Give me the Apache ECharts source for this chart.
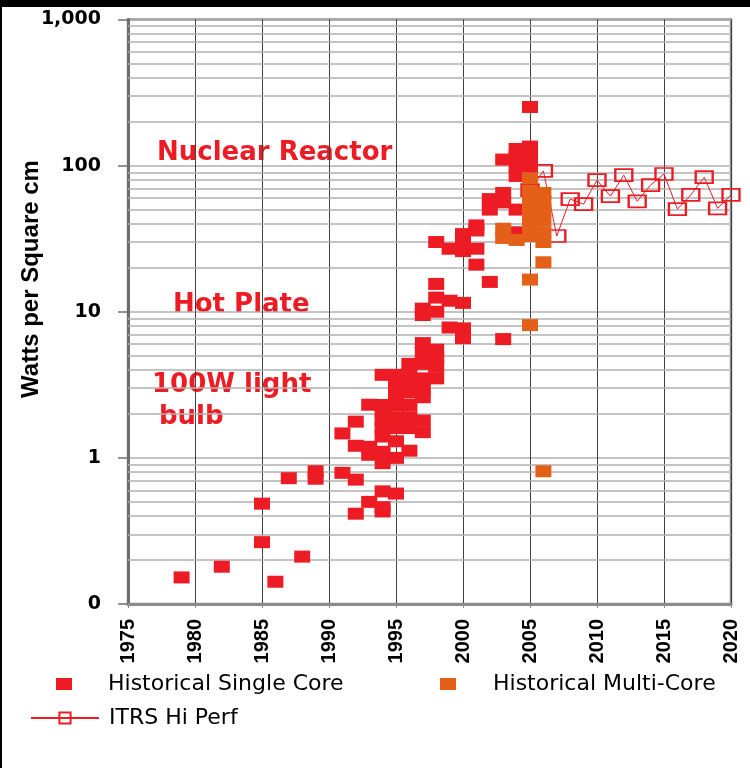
<!DOCTYPE html>
<html><head><meta charset="utf-8">
<script src="https://cdn.jsdelivr.net/npm/echarts@6/dist/echarts.min.js"></script>
<style>html,body{margin:0;padding:0;background:#fff}#c{width:750px;height:768px}</style>
</head><body><div id="c"></div>
<script>
// ---- data ----
const singleCoreYears = [
  1979, 1982, 1985, 1985, 1986, 1987, 1988, 1989, 1989,
  1991, 1991, 1992, 1992, 1992, 1992,
  1993, 1993, 1993, 1993,
  1994, 1994, 1994, 1994, 1994, 1994, 1994, 1994, 1994, 1994, 1994,
  1995, 1995, 1995, 1995, 1995, 1995, 1995, 1995, 1995,
  1996, 1996, 1996, 1996, 1996, 1996, 1996, 1996,
  1997, 1997, 1997, 1997, 1997, 1997, 1997, 1997, 1997, 1997,
  1998, 1998, 1998, 1998, 1998, 1998, 1998, 1998,
  1999, 1999, 1999,
  2000, 2000, 2000, 2000, 2000, 2000,
  2001, 2001, 2001, 2001,
  2002, 2002, 2002,
  2003, 2003, 2003, 2003,
  2004, 2004, 2004, 2004, 2004, 2004,
  2005, 2005, 2005, 2005, 2005
];
const singleCoreWatts = [
  0.152, 0.18, 0.486, 0.265, 0.142, 0.726, 0.211, 0.81, 0.72,
  0.79, 1.47, 0.71, 0.415, 1.77, 1.21,
  0.5, 2.31, 1.19, 1.05,
  0.59, 0.46, 0.43, 0.92, 1.1, 1.4, 1.6, 1.8, 2.1, 2.3, 3.7,
  0.57, 1.0, 1.3, 1.6, 1.9, 2.3, 2.7, 3.2, 3.7,
  1.12, 1.6, 1.9, 2.3, 2.8, 3.3, 3.8, 4.4,
  1.5, 1.8, 2.6, 3.0, 3.5, 4.4, 5.2, 6.1, 9.5, 10.5,
  3.5, 4.2, 4.8, 5.5, 10, 12.5, 15.5, 30,
  7.8, 11.9, 27,
  6.6, 7.7, 11.5, 26, 29, 34,
  21, 27, 36, 39,
  16, 50, 59,
  6.5, 56, 65, 110,
  35, 50, 85, 100, 115, 130,
  95, 110, 120, 135, 252
];
const multiCoreYears = [2003, 2003, 2004, 2005, 2005, 2005, 2005, 2005, 2005, 2005, 2005, 2005, 2006, 2006, 2006, 2006, 2006, 2006, 2006, 2006];
const multiCoreWatts = [37, 32, 31, 82, 67, 58, 50, 43, 38, 33, 16.6, 8.1, 65, 57, 50, 42, 35, 30, 21.8, 0.81];
const itrsYears = [2005, 2006, 2007, 2008, 2009, 2010, 2011, 2012, 2013, 2014, 2015, 2016, 2017, 2018, 2019, 2020];
const itrsWatts = [68, 92, 33, 59, 54.5, 79.6, 61.8, 86, 57, 73.6, 87.6, 50.4, 63, 83.4, 51, 63];
const yTickLabels = ['0', '1', '10', '100', '1,000'];
const seriesNames = ['Historical Single Core', 'Historical Multi-Core', 'ITRS Hi Perf'];
const annotationTexts = ['Nuclear Reactor', 'Hot Plate', '100W light', 'bulb'];
const yAxisTitle = 'Watts per Square cm';

// ---- chart ----
const RED = '#ED1C24', ORANGE = '#E46019';
const pairs = (xs, ys) => xs.map((x, i) => [x, ys[i]]);
const minorValues = [];
[0.1, 1, 10, 100].forEach(d => { for (let k = 2; k <= 9; k++) minorValues.push(+(k * d).toPrecision(3)); });

const chart = echarts.init(document.getElementById('c'), null, { renderer: 'canvas' });
const legendText = { fontFamily: 'DejaVu Sans', fontSize: 22, color: '#000' };
const annFont = { fontFamily: 'DejaVu Sans', fontWeight: 'bold', fontSize: 26, fill: RED, verticalAlign: 'middle', align: 'left' };

chart.setOption({
  backgroundColor: '#fff',
  animation: false,
  grid: { left: 128, top: 19.5, width: 603, height: 584.5, show: true, borderColor: '#8c8c8c', borderWidth: 2.5, backgroundColor: 'transparent' },
  xAxis: {
    type: 'value', min: 1975, max: 2020, interval: 5,
    axisLine: { show: true, onZero: false, lineStyle: { color: '#8c8c8c', width: 3 } },
    axisTick: { show: true, length: 4, lineStyle: { color: '#8c8c8c', width: 1 } },
    axisLabel: { rotate: 90, margin: 15, fontFamily: 'Liberation Sans', fontWeight: 'bold', fontSize: 20, color: '#000', formatter: v => String(v) },
    splitLine: { show: true, lineStyle: { color: '#404040', width: 1 } }
  },
  yAxis: {
    type: 'log', logBase: 10, min: 0.1, max: 1000,
    axisLine: { show: true, lineStyle: { color: '#6e6e6e', width: 3 } },
    axisTick: { show: true, length: 10, lineStyle: { color: '#6e6e6e', width: 1.5 } },
    axisLabel: { margin: 27, fontFamily: 'DejaVu Sans', fontWeight: 'bold', fontSize: 19, color: '#000',
      formatter: v => yTickLabels[Math.round(Math.log10(v)) + 1] },
    splitLine: { show: true, lineStyle: { color: '#b0b0b0', width: 1.5 } }
  },
  legend: [
    { left: 51, top: 668, icon: 'rect', itemWidth: 16, itemHeight: 12, itemGap: 0, selectedMode: false,
      textStyle: Object.assign({ padding: [0, 0, 0, 31] }, legendText), data: [seriesNames[0]] },
    { left: 435, top: 668, icon: 'rect', itemWidth: 16, itemHeight: 12, itemGap: 0, selectedMode: false,
      textStyle: Object.assign({ padding: [0, 0, 0, 32] }, legendText), data: [seriesNames[1]] },
    { left: 25, top: 702, itemWidth: 68, itemHeight: 14, itemGap: 0, selectedMode: false,
      textStyle: Object.assign({ padding: [0, 0, 0, 5] }, legendText), data: [seriesNames[2]] }
  ],
  graphic: [
    { type: 'rect', left: 0, top: 0, shape: { width: 750, height: 7 }, style: { fill: '#000' }, silent: true },
    { type: 'rect', left: 0, top: 0, shape: { width: 2, height: 768 }, style: { fill: '#000' }, silent: true },
    { type: 'text', x: 31, y: 279, rotation: Math.PI / 2, silent: true,
      style: { text: yAxisTitle, fontFamily: 'Liberation Sans', fontWeight: 'bold', fontSize: 24, fill: '#000', align: 'center', verticalAlign: 'middle' } },
    { type: 'text', x: 157, y: 153, silent: true, style: Object.assign({ text: annotationTexts[0] }, annFont) },
    { type: 'text', x: 173, y: 305, silent: true, style: Object.assign({ text: annotationTexts[1] }, annFont) },
    { type: 'text', x: 152, y: 385, silent: true, style: Object.assign({ text: annotationTexts[2] }, annFont) },
    { type: 'text', x: 159, y: 417, silent: true, style: Object.assign({ text: annotationTexts[3] }, annFont) }
  ],
  series: [
    { name: 'minor', type: 'scatter', data: [], z: 1, silent: true,
      markLine: { z: 1, zlevel: 0, silent: true, symbol: ['none', 'none'], label: { show: false }, animation: false,
        lineStyle: { color: '#b0b0b0', width: 1.5, type: 'solid' },
        emphasis: { disabled: true },
        data: minorValues.map(v => ({ yAxis: v })) } },
    { name: seriesNames[0], type: 'scatter', z: 3, symbol: 'rect', symbolSize: [16, 12],
      itemStyle: { color: RED, opacity: 1 }, emphasis: { disabled: true },
      data: pairs(singleCoreYears, singleCoreWatts) },
    { name: seriesNames[2], type: 'line', z: 4, symbol: 'rect', symbolSize: [17, 12], showAllSymbol: true,
      itemStyle: { color: 'rgba(255,255,255,0)', borderColor: RED, borderWidth: 2 },
      lineStyle: { color: RED, width: 1 }, emphasis: { disabled: true },
      data: pairs(itrsYears, itrsWatts) },
    { name: seriesNames[1], type: 'scatter', z: 5, symbol: 'rect', symbolSize: [16, 12],
      itemStyle: { color: ORANGE, opacity: 1 }, emphasis: { disabled: true },
      data: pairs(multiCoreYears, multiCoreWatts) }
  ]
});
</script>
</body></html>
